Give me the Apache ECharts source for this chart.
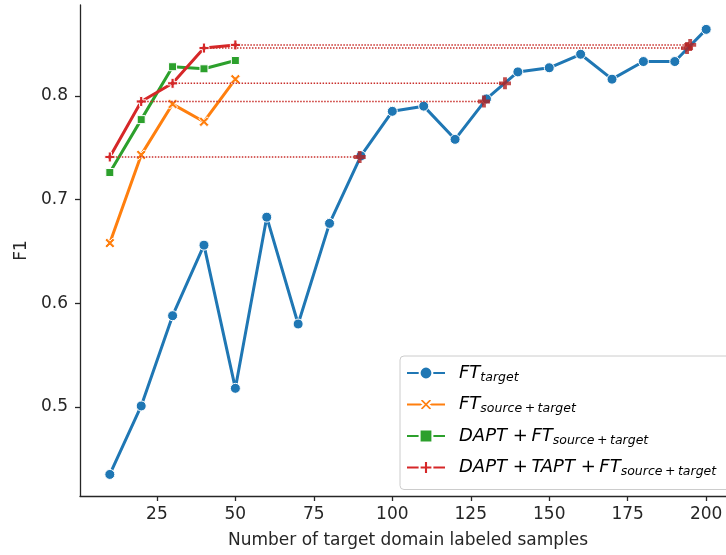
<!DOCTYPE html>
<html>
<head>
<meta charset="utf-8">
<script src="https://cdn.jsdelivr.net/npm/echarts@6/dist/echarts.min.js"></script>
<style>
html,body{margin:0;padding:0;background:#fff;}
#chart{width:726px;height:555px;}
</style>
</head>
<body>
<div id="chart"></div>
<script>
// ---- data ----
const samplesAll = [10,20,30,40,50,60,70,80,90,100,110,120,130,140,150,160,170,180,190,200];
const ftTarget = [0.435,0.501,0.588,0.656,0.518,0.683,0.580,0.677,0.742,0.785,0.790,0.758,0.797,0.823,0.827,0.840,0.816,0.833,0.833,0.864];
const samplesFew = [10,20,30,40,50];
const ftSourceTarget = [0.658,0.743,0.792,0.775,0.816];
const daptFt = [0.726,0.777,0.828,0.826,0.834];
const daptTaptFt = [0.741,0.7945,0.812,0.846,0.849];
// x positions where each DAPT+TAPT+FT level is matched by FT_target
const matchX = [89.6,129.2,135.9,193.9,194.9];
const xTicks = [25,50,75,100,125,150,175,200];
const yTicks = [0.5,0.6,0.7,0.8];
const seriesNames = ['FT_target','FT_source+target','DAPT+FT_source+target','DAPT+TAPT+FT_source+target'];
const legendLabels = {
  'FT_target': ['FT','target'],
  'FT_source+target': ['FT','source\u2009+\u2009target'],
  'DAPT+FT_source+target': ['DAPT +\u2009FT','source\u2009+\u2009target'],
  'DAPT+TAPT+FT_source+target': ['DAPT +\u2009TAPT +\u2009FT','source\u2009+\u2009target']
};

// ---- symbols ----
const symX = 'path://M0,2 L2,0 L5,3 L8,0 L10,2 L7,5 L10,8 L8,10 L5,7 L2,10 L0,8 L3,5 Z';
const symP = 'path://M3.4,0 H6.6 V3.4 H10 V6.6 H6.6 V10 H3.4 V6.6 H0 V3.4 H3.4 Z';

const colors = ['#1f77b4','#ff7f0e','#2ca02c','#d62728'];
const pair = (xs, ys) => xs.map((x,i)=>[x, ys[i]]);

const series = [
  {name: seriesNames[0], type:'line', data: pair(samplesAll, ftTarget), symbol:'circle', symbolSize:10,
   lineStyle:{width:3,color:colors[0]}, itemStyle:{color:colors[0],borderColor:'#fff',borderWidth:1}, z:2},
  {name: seriesNames[1], type:'line', data: pair(samplesFew, ftSourceTarget), symbol:symX, symbolSize:10,
   lineStyle:{width:3,color:colors[1]}, itemStyle:{color:colors[1],borderColor:'#fff',borderWidth:1}, z:3},
  {name: seriesNames[2], type:'line', data: pair(samplesFew, daptFt), symbol:'rect', symbolSize:8,
   lineStyle:{width:3,color:colors[2]}, itemStyle:{color:colors[2],borderColor:'#fff',borderWidth:1}, z:4},
  {name: seriesNames[3], type:'line', data: pair(samplesFew, daptTaptFt), symbol:symP, symbolSize:10,
   lineStyle:{width:3,color:colors[3]}, itemStyle:{color:colors[3],borderColor:'#fff',borderWidth:1}, z:5}
];
daptTaptFt.forEach((y,i)=>{
  series.push({type:'line', data:[[samplesFew[i], y],[matchX[i], y]], symbol:'none', silent:true,
    lineStyle:{width:1.4,type:[1.5,1.5],color:'#c9302c'}, z:6});
});
series.push({type:'scatter', data: matchX.map((x,i)=>[x, daptTaptFt[i]]), symbol:symP, symbolSize:12,
  itemStyle:{color:'#b22222'}, z:7, silent:true});

const axisCol = '#262626';
const option = {
  animation:false,
  textStyle:{fontFamily:'DejaVu Sans'},
  grid:{left:80, top:5, right:-10, bottom:59, outerBoundsMode:'none', containLabel:false},
  xAxis:{type:'value', min:0.5, max:209.5,
    name:'Number of target domain labeled samples', nameLocation:'middle', nameGap:36,
    nameTextStyle:{fontSize:17, color:axisCol, fontFamily:'DejaVu Sans'},
    axisLine:{show:true, lineStyle:{color:axisCol, width:1.3}},
    axisTick:{show:true, length:5, customValues:xTicks, lineStyle:{color:axisCol, width:1.3}},
    axisLabel:{customValues:xTicks, fontSize:17, color:axisCol, margin:10, fontFamily:'DejaVu Sans'},
    splitLine:{show:false}},
  yAxis:{type:'value', min:0.4142, max:0.8875,
    name:'F1', nameLocation:'middle', nameGap:50,
    nameTextStyle:{fontSize:17, color:axisCol, fontFamily:'DejaVu Sans'},
    axisLine:{show:true, lineStyle:{color:axisCol, width:1.3}},
    axisTick:{show:true, length:5, customValues:yTicks, lineStyle:{color:axisCol, width:1.3}},
    axisLabel:{customValues:yTicks, fontSize:17, color:axisCol, margin:12, fontFamily:'DejaVu Sans',
      formatter:v=>v.toFixed(1)},
    splitLine:{show:false}},
  legend:{
    data: seriesNames, orient:'vertical', left:400, top:356,
    padding:[8,30,11,6], itemGap:11.5, itemWidth:38, itemHeight:16,
    backgroundColor:'rgba(255,255,255,0.8)', borderColor:'#cccccc', borderWidth:1, borderRadius:4,
    formatter: n => '{m|' + legendLabels[n][0] + '}{s|' + legendLabels[n][1] + '}',
    textStyle:{
      color:'#000',
      rich:{
        m:{fontFamily:'DejaVu Sans', fontStyle:'italic', fontSize:18, lineHeight:22, padding:[0,0,0,9], color:'#000'},
        s:{fontFamily:'DejaVu Sans', fontStyle:'italic', fontSize:12.5, lineHeight:11, verticalAlign:'bottom', color:'#000'}
      }
    }
  },
  series: series
};
const chart = echarts.init(document.getElementById('chart'), null, {renderer:'canvas'});
chart.setOption(option);
</script>
</body>
</html>
